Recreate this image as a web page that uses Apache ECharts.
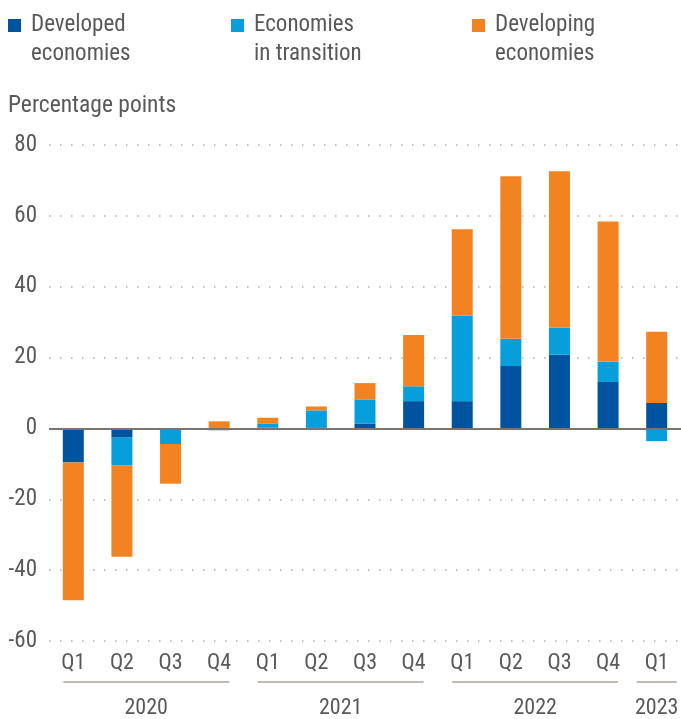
<!DOCTYPE html>
<html><head><meta charset="utf-8">
<script src="https://cdn.jsdelivr.net/npm/echarts@6/dist/echarts.min.js"></script>
<style>html,body{margin:0;padding:0;background:#fff}#c{width:681px;height:719px}</style>
</head><body><div id="c"></div>
<script>
const quarters = ['Q1','Q2','Q3','Q4','Q1','Q2','Q3','Q4','Q1','Q2','Q3','Q4','Q1'];
const yearOf = ['2020','2020','2020','2020','2021','2021','2021','2021','2022','2022','2022','2022','2023'];
const seriesNames = ['Developed economies','Economies in transition','Developing economies'];
const developed  = [-9.6, -2.6, 0, -0.5, 0.2, 0.3, 1.4, 7.7, 7.7, 17.6, 20.8, 13.1, 7.2];
const transition = [0, -7.9, -4.4, 0, 1.1, 4.8, 6.8, 4.2, 24.1, 7.7, 7.6, 5.7, -3.6];
const developing = [-38.9, -25.7, -11.2, 2.0, 1.7, 1.1, 4.6, 14.5, 24.4, 45.9, 44.2, 39.6, 20.1];
const yTicks = [-60, -40, -20, 0, 20, 40, 60, 80];

const FONT = "'Roboto Condensed', Roboto, sans-serif";
const TXT = '#595959';
const colors = ['#00539f', '#069fdc', '#f38321'];
const legendLeft = [8, 231, 472];

const chart = echarts.init(document.getElementById('c'), null, {renderer: 'canvas'});

const legends = seriesNames.map((n, i) => ({
  data: [n], left: legendLeft[i], top: -18, padding: 0,
  icon: 'rect', itemWidth: 13, itemHeight: 13, selectedMode: false,
  formatter: name => {
    const p = name.split(' ');
    const two = p[0] === 'Economies' ? ['Economies', 'in transition'] : [p[0], p.slice(1).join(' ')];
    return ' \n' + two.join('\n');
  },
  textStyle: {fontFamily: FONT, fontSize: 23, lineHeight: 29, color: TXT, padding: [0, 0, 0, 5]}
}));

const data = [developed, transition, developing];
const series = seriesNames.map((n, i) => ({
  name: n, type: 'bar', stack: 'total', barWidth: 21, data: data[i],
  itemStyle: {color: colors[i]}, emphasis: {disabled: true},
  markLine: i === 0 ? {silent: true, symbol: 'none', label: {show: false}, z: 10,
    lineStyle: {color: '#7a736e', width: 2, type: 'solid'}, data: [{yAxis: 0}]} : undefined
}));

chart.setOption({
  animation: false,
  textStyle: {fontFamily: FONT},
  title: {text: 'Percentage points', left: 8, top: 94, padding: 0,
    textStyle: {fontFamily: FONT, fontSize: 23.5, fontWeight: 'normal', color: TXT}},
  legend: legends,
  grid: {left: 49, right: 0, top: 145, bottom: 78},
  xAxis: {type: 'category', data: quarters, axisLine: {show: false, onZero: false},
    axisTick: {show: false}, axisLabel: {fontFamily: FONT, fontSize: 22, color: TXT, margin: 11}},
  yAxis: {type: 'value', min: yTicks[0], max: yTicks[yTicks.length - 1], interval: 20,
    axisLine: {show: false}, axisTick: {show: false},
    axisLabel: {fontFamily: FONT, fontSize: 23, color: TXT, margin: 12},
    splitLine: {lineStyle: {color: '#b0b0b0', width: 1.5, type: [1.5, 9.5]}}},
  series: series
});

// year group lines and labels
const groups = [];
yearOf.forEach((y, i) => {
  const g = groups[groups.length - 1];
  if (g && g.year === y) g.last = i; else groups.push({year: y, first: i, last: i});
});
const axisBottom = chart.convertToPixel({yAxisIndex: 0}, yTicks[0]);
const graphics = [];
groups.forEach(g => {
  const x0 = chart.convertToPixel({xAxisIndex: 0}, g.first);
  const x1 = chart.convertToPixel({xAxisIndex: 0}, g.last);
  const cx = (x0 + x1) / 2;
  const l = Math.min(x0 - 10, cx - 20), r = Math.max(x1 + 10, cx + 20);
  graphics.push({type: 'line', silent: true, shape: {x1: l, y1: axisBottom + 41, x2: r, y2: axisBottom + 41},
    style: {stroke: '#c2bab4', lineWidth: 2}});
  graphics.push({type: 'text', silent: true, x: cx, y: axisBottom + 67,
    style: {text: g.year, fontFamily: FONT, fontSize: 22, fill: TXT, align: 'center', verticalAlign: 'middle'}});
});
chart.setOption({graphic: graphics});
</script>
</body></html>
